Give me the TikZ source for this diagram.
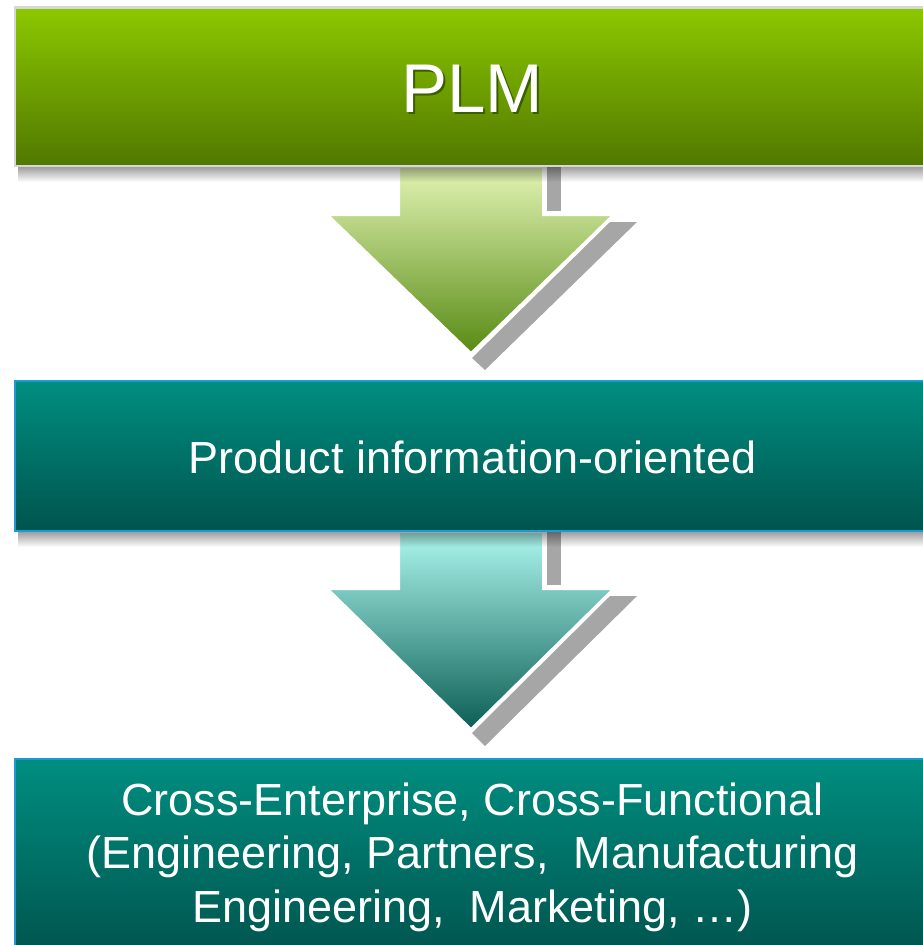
\documentclass[tikz,border=0pt]{standalone}
\usepackage{fontspec}
\setmainfont{Liberation Sans}
\usetikzlibrary{fadings}
\definecolor{gTop}{RGB}{140,200,0}
\definecolor{gBot}{RGB}{80,120,0}
\definecolor{tTop}{RGB}{0,142,128}
\definecolor{tBot}{RGB}{0,84,78}
\definecolor{aOneTop}{RGB}{226,244,180}
\definecolor{aOneBot}{RGB}{88,138,20}
\definecolor{aTwoTop}{RGB}{172,246,238}
\definecolor{aTwoBot}{RGB}{12,94,84}
\definecolor{shd}{RGB}{166,166,166}
\definecolor{bluebd}{RGB}{27,155,214}
\definecolor{graybd}{RGB}{215,215,215}
\definecolor{txtshd}{RGB}{60,92,0}
\pgfdeclarelayer{back}
\pgfdeclarelayer{mid}
\pgfsetlayers{back,mid,main}
\begin{document}
\begin{tikzpicture}[x=1pt,y=-1pt,
  boxbase/.style={rectangle, line width=2.5pt, text=white, minimum width=915pt, inner sep=0pt, outer sep=0pt},
  boxg/.style={boxbase, draw=graybd, top color=gTop, bottom color=gBot},
  boxt/.style={boxbase, draw=bluebd, top color=tTop, bottom color=tBot},
  arrshadow/.style={fill=shd},
  boxshadow/.style={fill=black, opacity=0.4, path fading=south},
  arrowone/.style={top color=aOneTop, bottom color=aOneBot, draw=white, line width=2pt},
  arrowtwo/.style={top color=aTwoTop, bottom color=aTwoBot, draw=white, line width=2pt}
]
\useasboundingbox (0,0) rectangle (923,945);
\clip (0,0) rectangle (923,945);

% boxes
\node[boxg, minimum height=158.5pt, text height=52pt, text depth=0pt,
      font=\fontsize{69}{80}\selectfont] (plm) at (472.5,86.75)
  {\makebox[0pt][l]{\hspace{2pt}\raisebox{-2pt}{\color{txtshd}PLM}}PLM};
\node[boxt, minimum height=150pt, text height=34pt, text depth=0pt,
      font=\fontsize{45}{53.5}\selectfont] (info) at (472.5,456)
  {Product information-oriented};
\node[boxt, minimum height=196pt, align=center,
      font=\fontsize{45}{53.5}\selectfont] (cross) at (472.5,857)
  {Cross-Enterprise, Cross-Functional\\(Engineering, Partners,\ \ Manufacturing\\Engineering,\ \ Marketing, \ldots)};

% arrows with their shadows
\begin{pgfonlayer}{back}
  \fill[arrshadow] (547,166) rectangle (561,211);
  \fill[arrshadow] (610,222) -- (637,222) -- (485,370) -- (472,358) -- cycle;
  \shadedraw[arrowone] (399,167) -- (543,167) -- (543,215) -- (613,215)
     -- (471,353) -- (328,215) -- (399,215) -- cycle;

  \fill[arrshadow] (547,531) rectangle (561,585);
  \fill[arrshadow] (610,596) -- (637,596) -- (485,746) -- (472,733) -- cycle;
  \shadedraw[arrowtwo] (399,532) -- (543,532) -- (543,589) -- (613,589)
     -- (471,729) -- (328,589) -- (399,589) -- cycle;
\end{pgfonlayer}

% box drop shadows
\begin{pgfonlayer}{mid}
  \fill[boxshadow] ([xshift=4pt]plm.south west) rectangle ([yshift=-16pt]plm.south east);
  \fill[boxshadow] ([xshift=4pt]info.south west) rectangle ([yshift=-16pt]info.south east);
\end{pgfonlayer}
\end{tikzpicture}
\end{document}
